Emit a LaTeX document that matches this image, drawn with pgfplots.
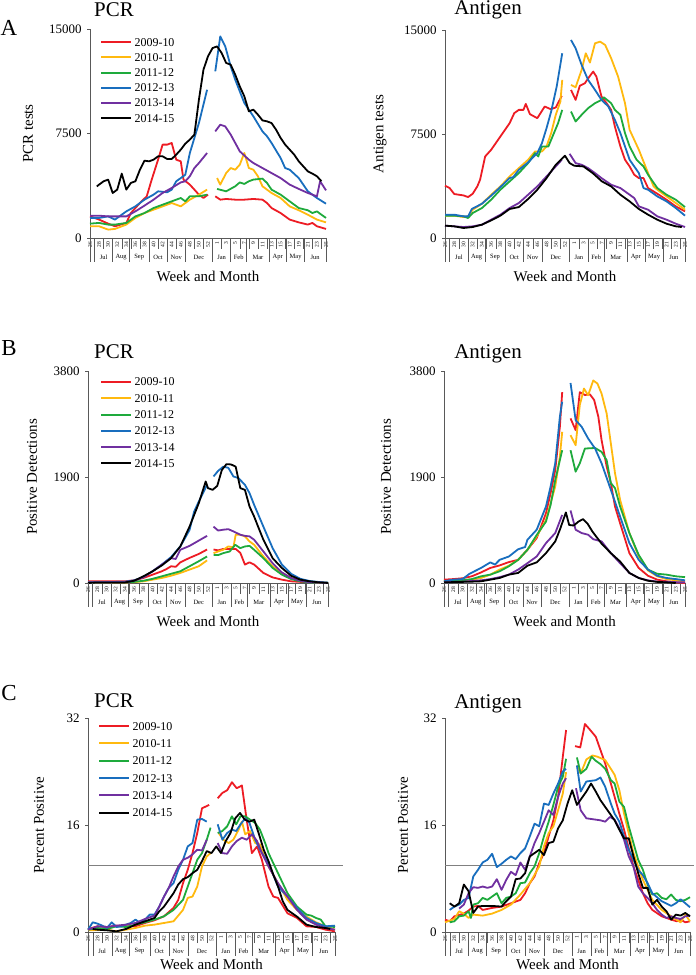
\documentclass[border=0pt]{standalone}
\usepackage{pgfplots}
\pgfplotsset{compat=1.18}
\usepackage{fontspec}
\setmainfont{Liberation Serif}
\definecolor{cR}{RGB}{237,28,36}
\definecolor{cO}{RGB}{255,185,15}
\definecolor{cG}{RGB}{30,170,60}
\definecolor{cB}{RGB}{25,110,190}
\definecolor{cP}{RGB}{112,48,160}
\definecolor{cK}{RGB}{0,0,0}
\newcommand{\fs}[1]{\fontsize{#1}{#1}\selectfont}
\newcommand{\monthrow}{%
  \pgfplotsinvokeforeach{0,1,5,8.7,13,17,21,27,31,34.5,39.4,43.3,47.3,52}{\draw[black!65,line width=0.4bp] (axis cs:##1,0) -- ([yshift=-24bp]axis cs:##1,0);}
  \node[font=\fs{6.5}] at ([yshift=-19bp]axis cs:3,0) {Jul};
  \node[font=\fs{6.5}] at ([yshift=-19bp]axis cs:6.85,0) {Aug};
  \node[font=\fs{6.5}] at ([yshift=-19bp]axis cs:10.85,0) {Sep};
  \node[font=\fs{6.5}] at ([yshift=-19bp]axis cs:15,0) {Oct};
  \node[font=\fs{6.5}] at ([yshift=-19bp]axis cs:19,0) {Nov};
  \node[font=\fs{6.5}] at ([yshift=-19bp]axis cs:24,0) {Dec};
  \node[font=\fs{6.5}] at ([yshift=-19bp]axis cs:29,0) {Jan};
  \node[font=\fs{6.5}] at ([yshift=-19bp]axis cs:32.75,0) {Feb};
  \node[font=\fs{6.5}] at ([yshift=-19bp]axis cs:37,0) {Mar};
  \node[font=\fs{6.5}] at ([yshift=-19bp]axis cs:41.35,0) {Apr};
  \node[font=\fs{6.5}] at ([yshift=-19bp]axis cs:45.3,0) {May};
  \node[font=\fs{6.5}] at ([yshift=-19bp]axis cs:49.6,0) {Jun};
}
\pgfplotsset{
  panel/.style={
    scale only axis, anchor=south west,
    xmin=0, xmax=52, ymin=0,
    axis x line=bottom, axis y line=left,
    axis line style={-, black!65, line width=0.6bp},
    clip=false, unbounded coords=jump,
    scaled y ticks=false,
    tick align=outside, major tick length=3bp,
    tick style={black!65, line width=0.5bp},
    xtick={0,2,...,52},
    xticklabels={26,28,30,32,34,36,38,40,42,44,46,48,50,52,1,3,5,7,9,11,13,15,17,19,21,23,25},
    x tick label style={rotate=90, anchor=east, font=\fs{5.5}, inner sep=0.8bp},
    xtick style={draw=none},
    extra x ticks={1,3,...,51}, extra x tick labels={},
    extra x tick style={major tick length=11bp, xtick style={draw=black!65, line width=0.4bp}},
    y tick label style={font=\fs{13}, xshift=-2bp},
    xlabel={Week and Month},
    xlabel style={at={(axis description cs:0.5,0)}, anchor=center, yshift=-38bp, font=\fs{15}},
    ylabel style={font=\fs{15}, anchor=center},
    every axis plot/.append style={line width=1.8bp, line join=round, no markers},
    legend cell align=left,
    legend image code/.code={\draw[##1, line width=2bp] (0bp,0bp) -- (30bp,0bp);},
  },
  leg/.style n args={3}{legend style={at={(axis description cs:#1,#2)}, anchor=north west, draw=none, fill=none, font=\fs{12}, inner sep=0pt, row sep=#3, column sep=2bp, nodes={inner sep=0.5bp, text height=8.5bp, text depth=0.5bp}}},
}
\begin{document}
\begin{tikzpicture}[x=1bp,y=1bp]
\useasboundingbox (0,0) rectangle (696,975);
% ================= A PCR =================
\begin{axis}[panel, at={(90bp,737bp)}, width=236bp, height=209bp,
  ymax=15000, ytick={0,7500,15000}, yticklabels={0,7500,15000},
  ylabel={PCR tests}, ylabel style={at={(axis description cs:-0.263,0.5)}},
  leg={0.042}{0.962}{5.2bp}]
\addplot[cR] coordinates {(0,1550)(2,1320)(4,1030)(5.5,840)(8,1080)(9,1790)(11,2510)(12.5,2990)(13.6,4190)(15,5620)(16,6700)(17,6700)(18,6820)(19,5620)(20,5500)(20.6,4190)(22,3830)(23,3470)(24,3110)(25,2870)(26,3110)(27,nan)(27.6,2990)(28.7,2750)(30,2800)(32,2750)(34,2750)(36,2800)(38,2750)(39,2510)(40,2150)(42,1790)(44,1320)(46,1120)(48,960)(49,1080)(50,840)(52,650)};
\addplot[cO] coordinates {(0,840)(2,840)(4,600)(5.5,650)(8,960)(10,1440)(12,1790)(14,2030)(16,2270)(18,2510)(20,2270)(22,2750)(24,3110)(25.8,3470)(27,nan)(28,4300)(28.7,3830)(30,4660)(31,5020)(32,4900)(33,5260)(34,6100)(35,5020)(36,4900)(37,4430)(38,3710)(39,3470)(40,3230)(42,2870)(44,2270)(46,1990)(48,1670)(50,1320)(52,1120)};
\addplot[cG] coordinates {(0,1030)(2,1080)(4,960)(5.5,960)(8,1080)(10,1550)(12,1790)(14,2150)(16,2390)(18,2630)(20,2870)(21,2630)(22,2990)(24,2990)(25.8,3110)(27,nan)(28,3520)(30,3350)(32,3710)(33,3990)(34,3880)(35,4070)(36,4190)(38,4260)(39,3950)(40,3470)(42,3110)(44,2630)(46,2150)(48,1990)(49,1790)(50,1910)(51,1670)(52,1440)};
\addplot[cB] coordinates {(0,1440)(2,1440)(4,1550)(5.5,1320)(8,1910)(10,2270)(12,2750)(14,3110)(15,3350)(17,3280)(18,3470)(19,4070)(20,4300)(21,4540)(22,6100)(24,8250)(25.8,10640)(27,nan)(27.6,11960)(28.7,14470)(29.8,13750)(31,12320)(32,11360)(34,9690)(36,8730)(38,7650)(39,7300)(40,6820)(42,5740)(43,5020)(44,4900)(46,4300)(48,3350)(50,2870)(52,2460)};
\addplot[cP] coordinates {(0,1600)(2,1600)(4,1550)(6,1550)(8,1550)(10,1910)(12,2320)(14,2750)(16,3230)(18,3590)(20,3990)(21,4070)(22,4430)(23,5020)(24,5380)(25.8,6100)(27,nan)(27.6,7650)(28.7,8130)(29.8,8010)(31,7420)(32,6820)(33,6220)(35,5620)(36,5380)(38,5020)(40,4660)(42,4300)(44,3830)(46,3520)(48,3230)(50,2990)(50.7,4070)(52,3420)};
\addplot[cK] coordinates {(1.5,3700)(2,3830)(3,4070)(4,4190)(5,3230)(6,3470)(7,4620)(8,3470)(9,3950)(10,4070)(11,4900)(12,5550)(13,5500)(14,5620)(15,5860)(16,5860)(17,5670)(18,5670)(19,5980)(20,6340)(21,6770)(22,7060)(23,7420)(24,9930)(25,12080)(26,13040)(27,13630)(28,13750)(29,13280)(30,12560)(31,12440)(32,11720)(33,10880)(34,10170)(35,9090)(36,9210)(37,8850)(38,8440)(39,8370)(40,8250)(41,7770)(42,7180)(43,6700)(44,6340)(45,5980)(46,5500)(47,5140)(48,4780)(49,4620)(50,4430)(51,4070)};
\legend{2009-10,2010-11,2011-12,2012-13,2013-14,2014-15}
\monthrow
\end{axis}
% ================= A Antigen =================
\begin{axis}[panel, at={(445bp,737bp)}, width=240bp, height=208bp,
  ymax=15000, ytick={0,7500,15000}, yticklabels={0,7500,15000},
  ylabel={Antigen tests}, ylabel style={at={(axis description cs:-0.271,0.5)}}]
\addplot[cR] coordinates {(0,3770)(1,3600)(2,3170)(4,3070)(5,2950)(6,3190)(7,3720)(7.6,4200)(8.7,5880)(10,6360)(11,6840)(12,7320)(14,8280)(15,9000)(16,9240)(17,9240)(17.5,9670)(18.4,8930)(20,8640)(21.6,9480)(22.9,9290)(24,9410)(25.3,10250)(26.5,nan)(27.3,10680)(28.3,9960)(29.2,10970)(30.3,11160)(31.4,11690)(32.1,12000)(32.8,11640)(33.9,10200)(35,9720)(36,9240)(36.8,8040)(38,6600)(39,5640)(40,5160)(41,4560)(42,4320)(43,4320)(44,3600)(46,3190)(48,2760)(50,2280)(52,1920)};
\addplot[cO] coordinates {(0,1610)(2,1610)(4,1510)(5,1560)(6,2040)(8,2470)(10,3120)(12,3720)(14,4440)(16,5040)(18,5640)(19.5,6240)(21,6240)(22,6600)(23,7560)(24,8880)(25,9840)(25.4,11400)(26.5,nan)(27.3,11040)(28.3,10870)(29.6,12120)(30.5,13320)(31.4,12650)(32.5,14040)(33.6,14160)(34.7,13920)(36,12960)(37.5,11640)(39,9720)(40,7800)(41,7080)(42,6360)(44,4680)(45.2,3720)(46,3480)(48,3000)(50,2520)(52,2040)};
\addplot[cG] coordinates {(0,1610)(2,1610)(4,1560)(5,1440)(6,1800)(8,2160)(10,2760)(12,3480)(14,4080)(16,4680)(18,5400)(19.5,6120)(20.2,5880)(21,6600)(22.4,6600)(23.3,7320)(24.5,8280)(25.4,9240)(26.5,nan)(27.3,9120)(28.3,8400)(29.6,8880)(31,9360)(32.5,9720)(33.9,9960)(34.4,10150)(36,9720)(36.8,9240)(38,8880)(39,7560)(40,6600)(41.5,5640)(43,5160)(44,4560)(46,3600)(48,3120)(50,2760)(52,2230)};
\addplot[cB] coordinates {(0,1680)(2,1680)(4,1560)(5,1560)(5.8,2090)(8,2470)(10,3050)(12,3670)(14,4320)(14.8,4390)(16,4920)(18,5450)(20,6120)(21,6840)(22,7920)(23,9120)(24.2,10920)(25.4,13320)(26.5,nan)(27.3,14280)(28.3,13680)(29.6,12480)(31,11400)(32.5,10680)(33.9,9960)(35.4,9480)(36.8,8520)(38,7560)(40,5640)(42,4680)(43,3600)(44,3480)(46,3000)(48,2640)(50,2160)(52,1610)};
\addplot[cP] coordinates {(0,890)(2,840)(4,790)(6,840)(8,960)(10,1320)(12,1680)(14,2160)(16,2520)(18,3120)(20,3720)(22,4440)(24,5160)(25.3,5640)(26.5,nan)(27,6070)(28.3,5400)(29.6,5280)(31,5040)(32.5,4680)(33.9,4320)(36,3840)(38,3600)(40,3120)(41,2880)(42,2280)(44,2040)(46,1560)(48,1320)(50,1030)(52,790)};
\addplot[cK] coordinates {(0,890)(2,840)(4,720)(6,790)(8,960)(10,1270)(12,1610)(14,2090)(16,2230)(18,2810)(20,3480)(22,4320)(24,5280)(26,5930)(27,5400)(28,5210)(30,5160)(32,4680)(34,4080)(36,3720)(38,3120)(40,2640)(42,2090)(44,1680)(46,1320)(48,1030)(50,840)(51.3,790)};
\monthrow
\end{axis}
% ================= B PCR =================
\begin{axis}[panel, at={(88bp,392bp)}, width=240bp, height=212bp,
  ymax=3800, ytick={0,1900,3800}, yticklabels={0,1900,3800},
  ylabel={Positive Detections}, ylabel style={at={(axis description cs:-0.233,0.5)}},
  leg={0.05}{0.973}{6.3bp}]
\addplot[cR] coordinates {(0,30)(2,30)(4,30)(6,30)(8,30)(10,48)(12,90)(14,150)(16,210)(17,250)(18,300)(19,290)(20,370)(22,450)(24,520)(25.8,600)(26.5,nan)(27.2,600)(28.2,585)(29.3,610)(30.7,610)(32,610)(33,540)(34,330)(35,370)(36,330)(38,180)(40,100)(42,60)(44,30)(46,20)(48,20)(50,10)(52,0)};
\addplot[cO] coordinates {(0,10)(4,10)(8,10)(10,15)(12,30)(14,60)(16,90)(18,130)(20,180)(22,240)(24,300)(25.8,405)(26.5,nan)(27.2,535)(28.2,565)(29.3,595)(30.4,655)(31.5,640)(32,865)(33,865)(34,835)(35,745)(36,685)(38,475)(40,300)(42,180)(44,90)(46,48)(48,24)(50,12)(52,0)};
\addplot[cG] coordinates {(0,15)(4,15)(8,15)(10,20)(12,40)(14,75)(16,120)(18,165)(20,210)(22,300)(24,390)(25.8,475)(26.5,nan)(27.2,505)(28.2,500)(29.3,535)(30.7,565)(31.9,685)(33,625)(34,655)(35,665)(36,595)(38,445)(40,270)(42,150)(44,70)(46,30)(48,10)(52,5)};
\addplot[cB] coordinates {(0,10)(4,15)(8,24)(10,48)(12,105)(14,210)(16,330)(18,465)(20,655)(22,950)(23,1280)(24,1460)(25.8,1760)(26.5,nan)(27.2,1910)(28.2,2010)(29.3,2085)(30.4,2065)(31.5,1910)(32.6,1880)(34,1760)(35,1610)(36,1400)(38,1010)(40,625)(42,330)(44,165)(46,75)(48,36)(50,18)(52,6)};
\addplot[cP] coordinates {(0,15)(4,15)(8,15)(10,40)(12,105)(14,210)(16,330)(18,445)(19,430)(20,595)(22,665)(24,760)(25.8,845)(26.5,nan)(27.2,1010)(28.2,940)(29.3,955)(30.4,965)(31.5,925)(33,865)(34,845)(35,835)(36,775)(38,565)(40,355)(42,190)(44,90)(46,40)(48,15)(50,10)(52,0)};
\addplot[cK] coordinates {(0,0)(2,10)(4,10)(6,10)(8,10)(10,40)(12,120)(14,210)(16,315)(18,445)(20,655)(22,1010)(24,1430)(25.5,1820)(26,1700)(27,1670)(28,1740)(29,2025)(30,2130)(31,2125)(32,2085)(33,1700)(34,1670)(35,1370)(36,1190)(37,980)(38,775)(40,445)(42,270)(44,130)(46,60)(48,30)(50,12)(52,0)};
\legend{2009-10,2010-11,2011-12,2012-13,2013-14,2014-15}
\monthrow
\end{axis}
% ================= B Antigen =================
\begin{axis}[panel, at={(444bp,392bp)}, width=241bp, height=212bp,
  ymax=3800, ytick={0,1900,3800}, yticklabels={0,1900,3800},
  ylabel={Positive Detections}, ylabel style={at={(axis description cs:-0.241,0.5)}}]
\addplot[cR] coordinates {(0,60)(2,70)(4,85)(6,120)(8,190)(10,270)(12,315)(14,375)(16,415)(18,595)(20,805)(22,1250)(23,1610)(24,2025)(25,2800)(25.5,3420)(26.5,nan)(27.3,2950)(28.4,2740)(29.3,3420)(30.4,3370)(31.5,3380)(32.4,3280)(33.3,2980)(34,2560)(35.1,2085)(36,1790)(36.9,1370)(38,1070)(40,535)(42,270)(44,130)(46,60)(48,30)(50,12)(52,0)};
\addplot[cO] coordinates {(0,30)(4,48)(6,60)(8,90)(10,150)(12,240)(14,310)(16,415)(18,595)(20,835)(22,1130)(24,1730)(25,2265)(25.5,2710)(26.5,nan)(27.3,2650)(28.4,2470)(29.3,3190)(30.2,3485)(31.1,3365)(32.2,3630)(33.1,3575)(34,3395)(35.1,3035)(36,2500)(36.9,1965)(38,1490)(40,895)(42,475)(44,225)(46,120)(48,70)(50,48)(52,30)};
\addplot[cG] coordinates {(0,30)(4,48)(6,70)(8,120)(10,150)(12,210)(14,300)(16,415)(18,595)(20,860)(22,1100)(23,1400)(24,1845)(25.5,2380)(26.5,nan)(27.3,2380)(28.4,1995)(29.3,2145)(30.4,2410)(32.6,2420)(34,2350)(35.1,2200)(36,1790)(36.9,1700)(38,1370)(40,895)(42,505)(44,240)(46,165)(48,150)(50,120)(52,105)};
\addplot[cB] coordinates {(0,30)(2,60)(4,70)(5.5,165)(8,270)(10,370)(11,330)(12,415)(14,475)(16,605)(17.5,645)(18,775)(20,955)(22,1370)(23,1730)(24,2145)(25,2980)(25.5,3250)(26.5,nan)(27.3,3585)(28.4,2920)(29.7,2800)(31.1,2590)(32.6,2410)(34,2145)(36,1670)(38,1190)(40,715)(42,415)(44,240)(46,130)(48,90)(50,70)(52,48)};
\addplot[cP] coordinates {(0,12)(4,24)(6,36)(8,48)(10,70)(12,105)(14,150)(16,240)(18,355)(20,475)(22,715)(24,895)(25.5,1220)(26.5,nan)(27.3,1300)(28.4,955)(29.7,895)(31.1,865)(32.2,785)(34,745)(36,535)(38,355)(40,180)(42,90)(44,48)(46,24)(48,24)(50,15)(52,12)};
\addplot[cK] coordinates {(0,12)(6,24)(8,30)(10,60)(12,90)(14,150)(16,180)(18,310)(20,370)(22,535)(24,745)(25,955)(26.3,1265)(27,1040)(28,1030)(29,1100)(30,1145)(31,1060)(32,925)(34,705)(36,535)(38,385)(40,180)(42,90)(44,40)(46,20)(48,12)(50,0)};
\monthrow
\end{axis}
% ================= C PCR =================
\begin{axis}[panel, at={(88bp,43bp)}, width=247bp, height=214bp,
  ymax=32, ytick={0,16,32}, yticklabels={0,16,32},
  xlabel style={yshift=6bp},
  ylabel={Percent Positive}, ylabel style={at={(axis description cs:-0.198,0.5)}},
  leg={0.04}{0.986}{7.3bp}]
\addplot[gray, line width=0.7bp, forget plot] coordinates {(0,10)(53.6,10)};
\addplot[cR] coordinates {(0,0.45)(2,0.85)(4,0.75)(6,0.95)(8,0.85)(10,0.85)(12,1.35)(14,1.75)(16,2.35)(18,3.6)(19,4.8)(20,7.3)(21,9.3)(22,11.8)(23,14.8)(24,18.5)(25.5,19.0)(26.5,nan)(27.3,20.0)(28.3,20.8)(29.3,21.2)(30.3,22.4)(31.3,21.5)(32.4,21.9)(33.4,16.8)(34.5,11.8)(35.6,12.8)(36.6,10.8)(38,6.8)(39,5.3)(40,5.1)(42,2.8)(44,2.1)(46,0.85)(48,0.75)(50,0.35)(52,0.1)};
\addplot[cO] coordinates {(0,0.25)(4,0.35)(6,0.1)(8,0.35)(10,0.6)(12,0.95)(14,1.1)(16,1.35)(18,1.6)(20,3.3)(21,5.1)(22,5.3)(23,6.8)(24,9.8)(25,11.3)(25.8,11.8)(26.5,nan)(27.5,14.8)(28.5,13.8)(29.6,13.3)(30.6,13.8)(31.7,15.3)(32.4,16.5)(33.1,14.6)(34.1,15.1)(35.2,13.3)(36.2,13.1)(38,9.8)(40,7.3)(42,4.8)(44,3.3)(46,2.3)(48,1.45)(50,0.85)(52,0.35)};
\addplot[cG] coordinates {(0,0.35)(2,0.6)(4,0.45)(6,0.85)(8,0.75)(10,1.1)(12,1.45)(14,1.85)(16,2.35)(18,3.3)(20,4.8)(21,6.8)(22,8.8)(23,10.8)(24,11.8)(25,13.8)(25.8,15.6)(26.5,nan)(27.3,14.8)(28.3,15.1)(29.3,15.8)(30.3,17.3)(31.2,16.1)(32.1,17.3)(33.1,17.3)(34.1,16.8)(35.2,16.3)(36.2,15.3)(37.3,13.3)(38,11.8)(40,8.8)(42,5.8)(44,3.8)(46,2.6)(47,2.45)(48,2.1)(49,1.85)(50,0.85)(52,0.75)};
\addplot[cB] coordinates {(0,0.35)(1,1.45)(2,1.25)(3,0.95)(4,0.6)(5,1.45)(6,0.75)(7,0.85)(8,1.1)(9,1.35)(10,1.85)(11,1.35)(12,1.85)(13,2.6)(14,2.6)(15,3.8)(16,5.3)(17,6.6)(18,7.3)(19,9.3)(20,10.8)(21,12.8)(22,13.3)(23,16.8)(24,16.9)(25,16.5)(26.5,nan)(27.3,16.1)(28.3,13.8)(29.3,14.8)(30.3,15.3)(31.2,15.1)(32.1,16.1)(33.1,17.0)(34,16.3)(35.2,13.8)(36.2,12.3)(38,10.3)(40,6.8)(42,5.3)(44,3.6)(46,2.1)(48,1.35)(49,1.1)(50,0.85)(52,0.95)};
\addplot[cP] coordinates {(0,0.35)(2,0.85)(4,0.75)(6,0.95)(8,1.1)(10,1.35)(12,1.95)(14,2.45)(15,3.8)(16,5.3)(17,6.6)(18,8.3)(19,9.8)(20,10.8)(21,11.1)(22,11.6)(23,12.3)(24,12.2)(25,13.8)(26.5,nan)(27.3,13.3)(28.3,11.8)(29.3,11.7)(30.3,12.8)(31.3,13.6)(32.4,14.1)(33.4,13.8)(34.5,14.6)(35.6,13.6)(36.6,11.8)(38,9.8)(40,7.3)(42,5.3)(44,3.3)(46,1.85)(48,1.1)(50,0.6)(52,0.35)};
\addplot[cK] coordinates {(1,0.45)(2,0.35)(4,0.25)(6,0.1)(8,0.45)(10,1.1)(12,1.6)(14,2.1)(15,3.1)(16,3.8)(17,4.8)(18,5.8)(19,7.1)(20,7.9)(21,8.2)(22,8.8)(23,9.3)(24,10.6)(25,12.1)(26,11.8)(27,12.8)(28,11.8)(29,13.6)(30,14.8)(31,17.0)(32,17.8)(33,16.8)(34,16.5)(35,16.8)(36,14.6)(37,12.3)(38,10.6)(39,8.6)(40,6.8)(41,4.6)(42,3.3)(44,2.3)(46,1.1)(48,0.75)(50,0.6)(51,0.45)};
\legend{2009-10,2010-11,2011-12,2012-13,2013-14,2014-15}
\monthrow
\end{axis}
% ================= C Antigen =================
\begin{axis}[panel, at={(445bp,43bp)}, width=245bp, height=214bp,
  ymax=32, ytick={0,16,32}, yticklabels={0,16,32},
  xlabel style={yshift=6bp},
  ylabel={Percent Positive}, ylabel style={at={(axis description cs:-0.171,0.5)}}]
\addplot[gray, line width=0.7bp, forget plot] coordinates {(0,10)(52.8,10)};
\addplot[cR] coordinates {(0,1.85)(1,1.6)(2,2.35)(4,2.75)(5,3.2)(6,3.8)(7,3.9)(8,3.3)(10,3.6)(12,3.8)(14,4.3)(16,4.8)(17,5.8)(18,7.3)(19,8.3)(20,10.3)(21,11.8)(22,14.3)(23,16.7)(24,20.2)(25,26.2)(25.7,30.2)(26.5,nan)(27.6,27.8)(28.7,27.6)(29.7,31.1)(30.7,30.3)(32,29.2)(33,27.2)(34,25.2)(35,22.7)(36,20.2)(37,17.7)(38,15.3)(39,12.5)(40,9.8)(41,7.8)(42,5.8)(43,4.3)(44,3.3)(46,2.35)(48,1.85)(49.2,1.6)(50,1.85)(51,1.45)(52,1.6)};
\addplot[cO] coordinates {(0,1.45)(2,1.95)(3,3.1)(4,2.75)(5,2.1)(6,2.6)(8,2.45)(10,2.75)(12,3.3)(14,4.1)(16,5.6)(18,7.3)(20,9.8)(21,12.8)(22,14.8)(23,15.8)(24,18.2)(25,20.7)(25.7,23.9)(26.5,nan)(28,24.9)(28.8,23.7)(30,25.8)(31.3,26.4)(32.4,26.2)(34,25.7)(35.2,24.4)(36,23.5)(37,21.2)(38,17.7)(40,11.8)(42,7.8)(44,4.8)(46,3.3)(48,2.35)(50,1.45)(51,2.6)(52,1.6)};
\addplot[cG] coordinates {(1,1.45)(2,1.6)(3,2.35)(4,2.45)(5,3.1)(5.5,2.1)(6,4.1)(7,4.3)(8,5.1)(9,4.8)(10,5.3)(11,5.8)(12,4.3)(13,5.1)(14,5.3)(15,5.8)(16,7.3)(17,7.4)(18,8.8)(19,9.8)(20,11.8)(21,14.3)(22,16.5)(23,19.0)(24,21.7)(25,23.2)(25.7,25.9)(26.5,nan)(28,26.1)(28.8,23.7)(30,24.4)(31.1,26.2)(32,25.6)(33,25.1)(34,24.4)(35.2,22.7)(36,22.2)(37,19.5)(38,18.7)(39,15.8)(40,13.3)(41,10.8)(42,9.3)(43,7.1)(44,5.6)(45,5.8)(46,5.1)(47,4.9)(48,5.6)(49,4.8)(50,4.6)(51,4.8)(52,5.2)};
\addplot[cB] coordinates {(1,3.3)(2,3.8)(3,4.1)(4,4.8)(5,5.1)(6,8.3)(7,9.3)(8,10.4)(9,10.8)(10,11.7)(11,9.7)(12,10.2)(13,10.8)(14,11.3)(15,10.9)(16,11.8)(17,12.5)(18,14.3)(19,16.2)(20,15.8)(21,19.2)(22,19.0)(23,20.7)(24,22.2)(25,24.0)(25.7,24.4)(26.5,nan)(28,24.9)(28.8,21.0)(30,22.5)(32,22.7)(33,23.1)(34,21.7)(35.2,19.2)(36,17.7)(37,16.5)(38,14.3)(39,12.3)(40,10.8)(41,9.3)(42,8.5)(43,7.3)(44,5.8)(46,4.6)(48,3.9)(49,4.3)(50,4.9)(51,4.3)(52,3.7)};
\addplot[cP] coordinates {(3,3.5)(4,4.1)(5,5.8)(6,6.7)(7,6.6)(8,6.8)(9,6.6)(10,6.8)(11,7.9)(12,6.3)(13,7.8)(14,9.0)(15,8.5)(16,10.4)(17,9.3)(18,11.3)(19,13.3)(20,14.8)(21,16.5)(22,18.2)(23,17.5)(24,20.2)(25,22.2)(25.7,23.0)(26.5,nan)(27.8,21.5)(28.8,18.2)(30,17.0)(32,16.8)(33,16.7)(34,16.5)(35,17.2)(36,16.8)(37,15.5)(38,13.8)(39,11.3)(40,9.8)(41,6.8)(42,5.8)(43,5.1)(44,4.3)(45,3.3)(46,2.6)(47,2.1)(48,2.35)(49,2.1)(50,1.95)(51,2.35)(52,2.45)};
\addplot[cK] coordinates {(1,4.3)(2,3.8)(3,4.3)(4,7.1)(5,6.1)(6,2.85)(7,3.8)(8,3.9)(10,3.9)(12,3.8)(13,4.6)(14,5.3)(15,7.9)(16,8.0)(17,8.8)(18,11.3)(19,11.8)(20,12.3)(21,11.5)(22,13.3)(23,13.5)(24,15.5)(25,16.7)(26,19.2)(27,21.2)(28,19.0)(29,20.0)(30,21.0)(31,22.2)(32,21.0)(33,19.7)(34,18.7)(35,17.7)(36,16.7)(37,15.3)(38,14.0)(39,14.0)(40,11.3)(41,8.8)(42,6.6)(43,6.6)(44,4.1)(45,4.8)(46,3.8)(47,3.1)(48,1.85)(49,2.6)(50,2.45)(51,2.85)(52,2.35)};
\monthrow
\end{axis}
% ================= titles & letters =================
\node[font=\fs{23}] at (9,947) {A};
\node[font=\fs{23}] at (9,627) {B};
\node[font=\fs{23}] at (9,282) {C};
\node[font=\fs{21}] at (114,965) {PCR};
\node[font=\fs{21}] at (488,965) {Antigen};
\node[font=\fs{21}] at (114,623) {PCR};
\node[font=\fs{21}] at (488,621) {Antigen};
\node[font=\fs{21}] at (114,274) {PCR};
\node[font=\fs{21}] at (488,271) {Antigen};
\end{tikzpicture}
\end{document}
